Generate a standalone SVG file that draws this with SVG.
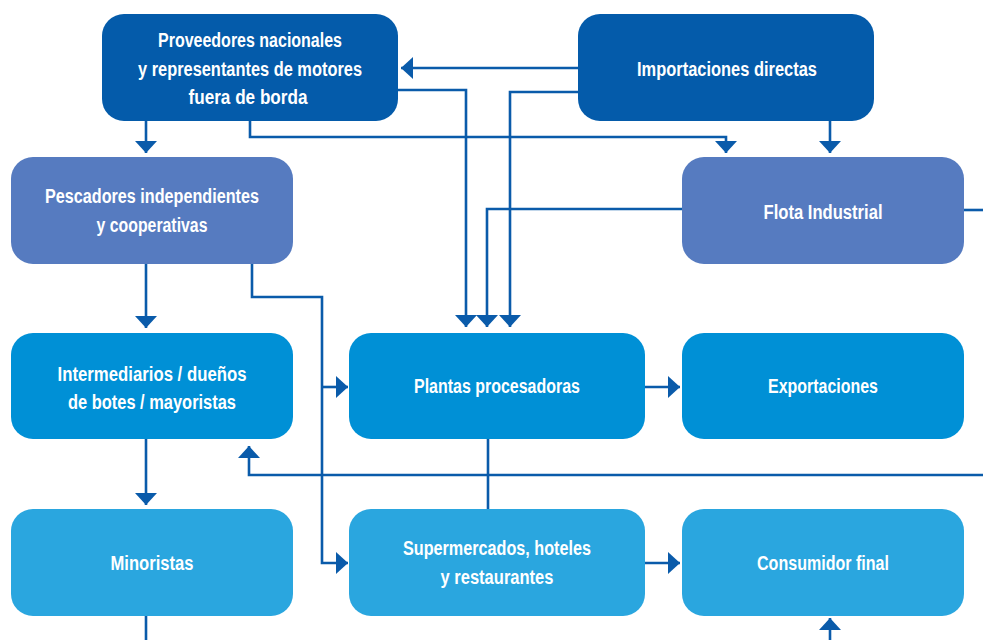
<svg xmlns="http://www.w3.org/2000/svg" width="983" height="640" viewBox="0 0 983 640">
<defs>
<style>
.box{stroke:none}
.r1{fill:#045BAA}
.r2{fill:#567BC0}
.r3{fill:#0090D6}
.r4{fill:#2AA6DF}
.t{fill:#ffffff;font-family:"Liberation Sans",Arial,sans-serif;font-weight:bold;font-size:19.5px;text-anchor:middle}
.c{fill:none;stroke:#0A5BAA;stroke-width:2.6}
</style>
<marker id="ah" viewBox="0 0 12 22" refX="12" refY="11" markerWidth="12" markerHeight="22" markerUnits="userSpaceOnUse" orient="auto">
<path d="M0,0 L12,11 L0,22 Z" fill="#0A5BAA"/>
</marker>
</defs>
<rect width="983" height="640" fill="#ffffff"/>
<g id="connectors">
<path class="c" d="M146,121 V153" marker-end="url(#ah)"/>
<path class="c" d="M578,68 H401" marker-end="url(#ah)"/>
<path class="c" d="M398,90 H466 V327" marker-end="url(#ah)"/>
<path class="c" d="M578,92 H510 V327" marker-end="url(#ah)"/>
<path class="c" d="M250,121 V137 H726 V153" marker-end="url(#ah)"/>
<path class="c" d="M830,121 V153" marker-end="url(#ah)"/>
<path class="c" d="M682,209 H487 V327" marker-end="url(#ah)"/>
<path class="c" d="M964,210 H990"/>
<path class="c" d="M990,475 H249 V446" marker-end="url(#ah)"/>
<path class="c" d="M146,264 V328" marker-end="url(#ah)"/>
<path class="c" d="M252,264 V297 H322 V563 H348" marker-end="url(#ah)"/>
<path class="c" d="M322,387 H348" marker-end="url(#ah)"/>
<path class="c" d="M146,439 V505" marker-end="url(#ah)"/>
<path class="c" d="M488,439 V509"/>
<path class="c" d="M645,387 H680" marker-end="url(#ah)"/>
<path class="c" d="M645,563 H680" marker-end="url(#ah)"/>
<path class="c" d="M146,616 V645"/>
<path class="c" d="M830,645 V618" marker-end="url(#ah)"/>
</g>
<g id="proveedores">
<rect class="box r1" x="102" y="14" width="296" height="107" rx="22"/>
<text class="t" x="250" y="47" textLength="184" lengthAdjust="spacingAndGlyphs">Proveedores nacionales</text>
<text class="t" x="250" y="76" textLength="224" lengthAdjust="spacingAndGlyphs">y representantes de motores</text>
<text class="t" x="248" y="104" textLength="119" lengthAdjust="spacingAndGlyphs">fuera de borda</text>
</g>
<g id="importaciones">
<rect class="box r1" x="578" y="14" width="296" height="107" rx="22"/>
<text class="t" x="727" y="76" textLength="180" lengthAdjust="spacingAndGlyphs">Importaciones directas</text>
</g>
<g id="pescadores">
<rect class="box r2" x="11" y="157" width="282" height="107" rx="22"/>
<text class="t" x="152" y="203" textLength="214" lengthAdjust="spacingAndGlyphs">Pescadores independientes</text>
<text class="t" x="152" y="232" textLength="111" lengthAdjust="spacingAndGlyphs">y cooperativas</text>
</g>
<g id="flota">
<rect class="box r2" x="682" y="157" width="282" height="107" rx="22"/>
<text class="t" x="823" y="219" textLength="119" lengthAdjust="spacingAndGlyphs">Flota Industrial</text>
</g>
<g id="intermediarios">
<rect class="box r3" x="11" y="333" width="282" height="106" rx="22"/>
<text class="t" x="152" y="381" textLength="189" lengthAdjust="spacingAndGlyphs">Intermediarios / dueños</text>
<text class="t" x="152" y="409" textLength="168" lengthAdjust="spacingAndGlyphs">de botes / mayoristas</text>
</g>
<g id="plantas">
<rect class="box r3" x="349" y="333" width="296" height="106" rx="22"/>
<text class="t" x="497" y="393" textLength="166" lengthAdjust="spacingAndGlyphs">Plantas procesadoras</text>
</g>
<g id="exportaciones">
<rect class="box r3" x="682" y="333" width="282" height="106" rx="22"/>
<text class="t" x="823" y="393" textLength="110" lengthAdjust="spacingAndGlyphs">Exportaciones</text>
</g>
<g id="minoristas">
<rect class="box r4" x="11" y="509" width="282" height="107" rx="22"/>
<text class="t" x="152" y="570" textLength="83" lengthAdjust="spacingAndGlyphs">Minoristas</text>
</g>
<g id="supermercados">
<rect class="box r4" x="349" y="509" width="296" height="107" rx="22"/>
<text class="t" x="497" y="555" textLength="188" lengthAdjust="spacingAndGlyphs">Supermercados, hoteles</text>
<text class="t" x="497" y="584" textLength="113" lengthAdjust="spacingAndGlyphs">y restaurantes</text>
</g>
<g id="consumidor">
<rect class="box r4" x="682" y="509" width="282" height="107" rx="22"/>
<text class="t" x="823" y="570" textLength="132" lengthAdjust="spacingAndGlyphs">Consumidor final</text>
</g>
</svg>
